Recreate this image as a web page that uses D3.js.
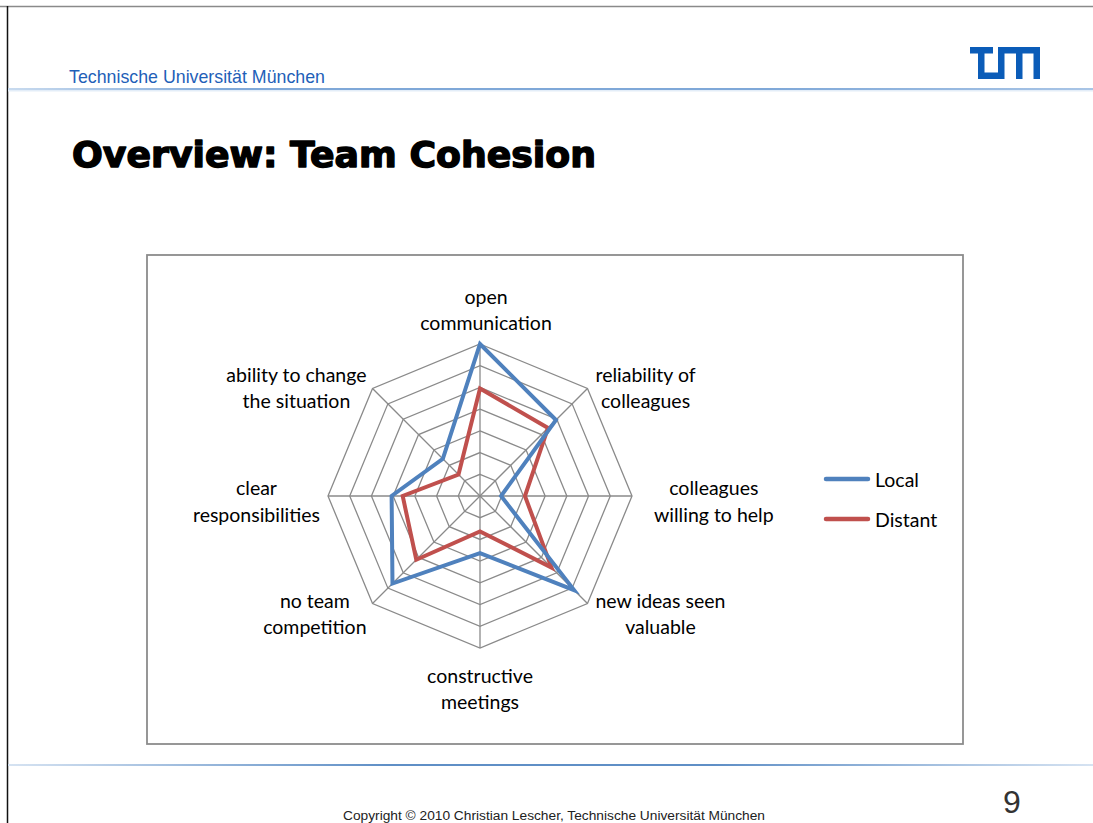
<!DOCTYPE html>
<html>
<head>
<meta charset="utf-8">
<script src="https://cdn.jsdelivr.net/npm/d3@7"></script>
<style>
  html, body { margin: 0; padding: 0; background: #fff; }
  svg { display: block; }
</style>
</head>
<body>
<svg id="slide" width="1093" height="823"></svg>
<script>
// ---------------- DATA ----------------
const categories = [
  "open communication",
  "reliability of colleagues",
  "colleagues willing to help",
  "new ideas seen valuable",
  "constructive meetings",
  "no team competition",
  "clear responsibilities",
  "ability to change the situation"
];
const categoryLines = [
  ["open", "communication"],
  ["reliability of", "colleagues"],
  ["colleagues", "willing to help"],
  ["new ideas seen", "valuable"],
  ["constructive", "meetings"],
  ["no team", "competition"],
  ["clear", "responsibilities"],
  ["ability to change", "the situation"]
];
const seriesNames = ["Local", "Distant"];
const localValues   = [7.0, 4.95, 0.97, 6.13, 2.63, 5.7, 4.07, 2.42];
const distantValues = [4.95, 4.43, 2.07, 4.66, 1.63, 4.15, 3.56, 1.4];
const gridTicks = [1, 2, 3, 4, 5, 6, 7];
const valueMax = 7;

const headerText = "Technische Universität München";
const titleText = "Overview: Team Cohesion";
const footerText = "Copyright © 2010 Christian Lescher, Technische Universität München";
const pageNumber = "9";

// ---------------- DRAWING ----------------
const svg = d3.select("#slide");
const W = 1093, H = 823;
const labelFont = "Lato, 'Open Sans', 'Noto Sans', sans-serif";
const colors = { Local: "#4F81BD", Distant: "#C0504D" };

const defs = svg.append("defs");
function grad(id, stops) {
  const g = defs.append("linearGradient").attr("id", id).attr("x1", "0%").attr("x2", "100%").attr("y1", "0").attr("y2", "0");
  stops.forEach(s => g.append("stop").attr("offset", s[0]).attr("stop-color", s[1]));
}
grad("hdrLine", [["0%", "#c9dbef"], ["20%", "#7fa8d8"], ["70%", "#7fa8d8"], ["100%", "#a9c5e6"]]);
grad("ftrLine", [["0%", "#d6e3f2"], ["35%", "#5f8fc6"], ["65%", "#5f8fc6"], ["100%", "#d6e3f2"]]);

// page frame
svg.append("line").attr("x1", 0).attr("x2", W).attr("y1", 6.5).attr("y2", 6.5)
  .attr("stroke", "#8a8a8a").attr("stroke-width", 1.5);
svg.append("line").attr("x1", 7.5).attr("x2", 7.5).attr("y1", 6).attr("y2", H)
  .attr("stroke", "#111").attr("stroke-width", 1.5);

// header
svg.append("text").attr("x", 69).attr("y", 83)
  .attr("font-family", "'Liberation Sans', Arial, sans-serif").attr("font-size", 17.8)
  .attr("fill", "#1f5fb8").text(headerText);
svg.append("rect").attr("x", 8).attr("y", 88).attr("width", W - 8).attr("height", 2)
  .attr("fill", "url(#hdrLine)");
svg.append("rect").attr("x", 8).attr("y", 90).attr("width", W - 8).attr("height", 1.5)
  .attr("fill", "#e3edf8");

// TUM logo
const logo = svg.append("g").attr("fill", "#0b5cb8");
const lx = 970, ly = 47, lh = 32, t = 6.5;
[
  [lx, ly, 23, t],                 // T top bar
  [lx + 8, ly, t, lh],             // T stem / U left
  [lx + 8, ly + lh - t, 26, t],    // U bottom
  [lx + 28, ly, t, lh],            // U right / M left
  [lx + 28, ly, 42, t],            // M top bar
  [lx + 46, ly, t, lh],            // M middle
  [lx + 63.5, ly, t, lh]           // M right
].forEach(r => logo.append("rect").attr("x", r[0]).attr("y", r[1]).attr("width", r[2]).attr("height", r[3]));

// title
svg.append("text").attr("x", 72).attr("y", 167)
  .attr("font-family", "'DejaVu Sans', sans-serif").attr("font-weight", "bold")
  .attr("font-size", 35).attr("textLength", 524).attr("lengthAdjust", "spacingAndGlyphs")
  .attr("stroke", "#000").attr("stroke-width", 1.4).attr("stroke-linejoin", "round")
  .attr("fill", "#000").text(titleText);

// chart frame
svg.append("rect").attr("x", 147).attr("y", 255).attr("width", 816).attr("height", 489)
  .attr("fill", "#fff").attr("stroke", "#8c8c8c").attr("stroke-width", 1.8);

// radar
const cx = 480, cy = 496, R = 152;
const n = categories.length;
const rScale = d3.scaleLinear().domain([0, valueMax]).range([0, R]);
const angle = i => i * 2 * Math.PI / n;
const g = svg.append("g").attr("transform", `translate(${cx},${cy})`);

const ringLine = d3.lineRadial().angle((d, i) => angle(i)).radius(d => rScale(d)).curve(d3.curveLinearClosed);
g.selectAll("path.ring").data(gridTicks).join("path").attr("class", "ring")
  .attr("d", tk => ringLine(categories.map(() => tk)))
  .attr("fill", "none").attr("stroke", "#8a8a8a").attr("stroke-width", 1.3);
g.selectAll("line.spoke").data(categories).join("line").attr("class", "spoke")
  .attr("x1", 0).attr("y1", 0)
  .attr("x2", (d, i) => rScale(valueMax) * Math.sin(angle(i)))
  .attr("y2", (d, i) => -rScale(valueMax) * Math.cos(angle(i)))
  .attr("stroke", "#8a8a8a").attr("stroke-width", 1.3);

const seriesData = [
  { name: "Local", values: localValues },
  { name: "Distant", values: distantValues }
];
[seriesData[1], seriesData[0]].forEach(s => {
  g.append("path").attr("d", ringLine(s.values))
    .attr("fill", "none").attr("stroke", colors[s.name]).attr("stroke-width", 4)
    .attr("stroke-linejoin", "miter");
});

// category labels
const fontSize = 19.5, lineH = 26.5;
categoryLines.forEach((lines, i) => {
  const a = angle(i);
  const sx = Math.sin(a), cy_ = -Math.cos(a);
  const vx = rScale(valueMax) * sx, vy = rScale(valueMax) * cy_;
  const lg = g.append("g");
  const texts = lines.map((ln, k) => lg.append("text")
    .attr("text-anchor", "middle").attr("dominant-baseline", "central")
    .attr("font-family", labelFont).attr("font-size", fontSize).attr("fill", "#000")
    .attr("y", (k - (lines.length - 1) / 2) * lineH).text(ln));
  const w = d3.max(texts, tx => tx.node().getComputedTextLength());
  const hb = lines.length * lineH / 2;
  let bx = vx, by = vy;
  if (sx > 0.9) { bx = vx + 22 + w / 2; by = vy + 5; }
  else if (sx < -0.9) { bx = vx - 8 - w / 2; by = vy + 5; }
  else if (sx > 0.1) { bx = vx + 8 + w / 2; by = vy + (cy_ < 0 ? -1 : 10); }
  else if (sx < -0.1) { bx = vx - 6 - w / 2; by = vy + (cy_ < 0 ? -1 : 10); }
  else if (cy_ < 0) { by = vy - 10 - hb + 2; bx = vx + 6; }
  else { by = vy + 16 + hb - 2; }
  lg.attr("transform", `translate(${bx},${by})`);
});

// legend
const leg = svg.append("g");
seriesNames.forEach((nm, k) => {
  const y = 479 + k * 40;
  leg.append("line").attr("x1", 826).attr("x2", 868).attr("y1", y).attr("y2", y)
    .attr("stroke", colors[nm]).attr("stroke-width", 4.5).attr("stroke-linecap", "round");
  leg.append("text").attr("x", 875).attr("y", y).attr("dominant-baseline", "central")
    .attr("font-family", labelFont).attr("font-size", fontSize).attr("fill", "#000").text(nm);
});

// footer
svg.append("rect").attr("x", 8).attr("y", 764).attr("width", W - 8).attr("height", 2)
  .attr("fill", "url(#ftrLine)");
svg.append("text").attr("x", 1012).attr("y", 813).attr("text-anchor", "middle")
  .attr("font-family", "'Liberation Sans', Arial, sans-serif").attr("font-size", 32)
  .attr("fill", "#333").text(pageNumber);
svg.append("text").attr("x", 554).attr("y", 820).attr("text-anchor", "middle")
  .attr("font-family", "'Liberation Sans', Arial, sans-serif").attr("font-size", 12.5)
  .attr("textLength", 422).attr("lengthAdjust", "spacingAndGlyphs")
  .attr("fill", "#222").text(footerText);
</script>
</body>
</html>
